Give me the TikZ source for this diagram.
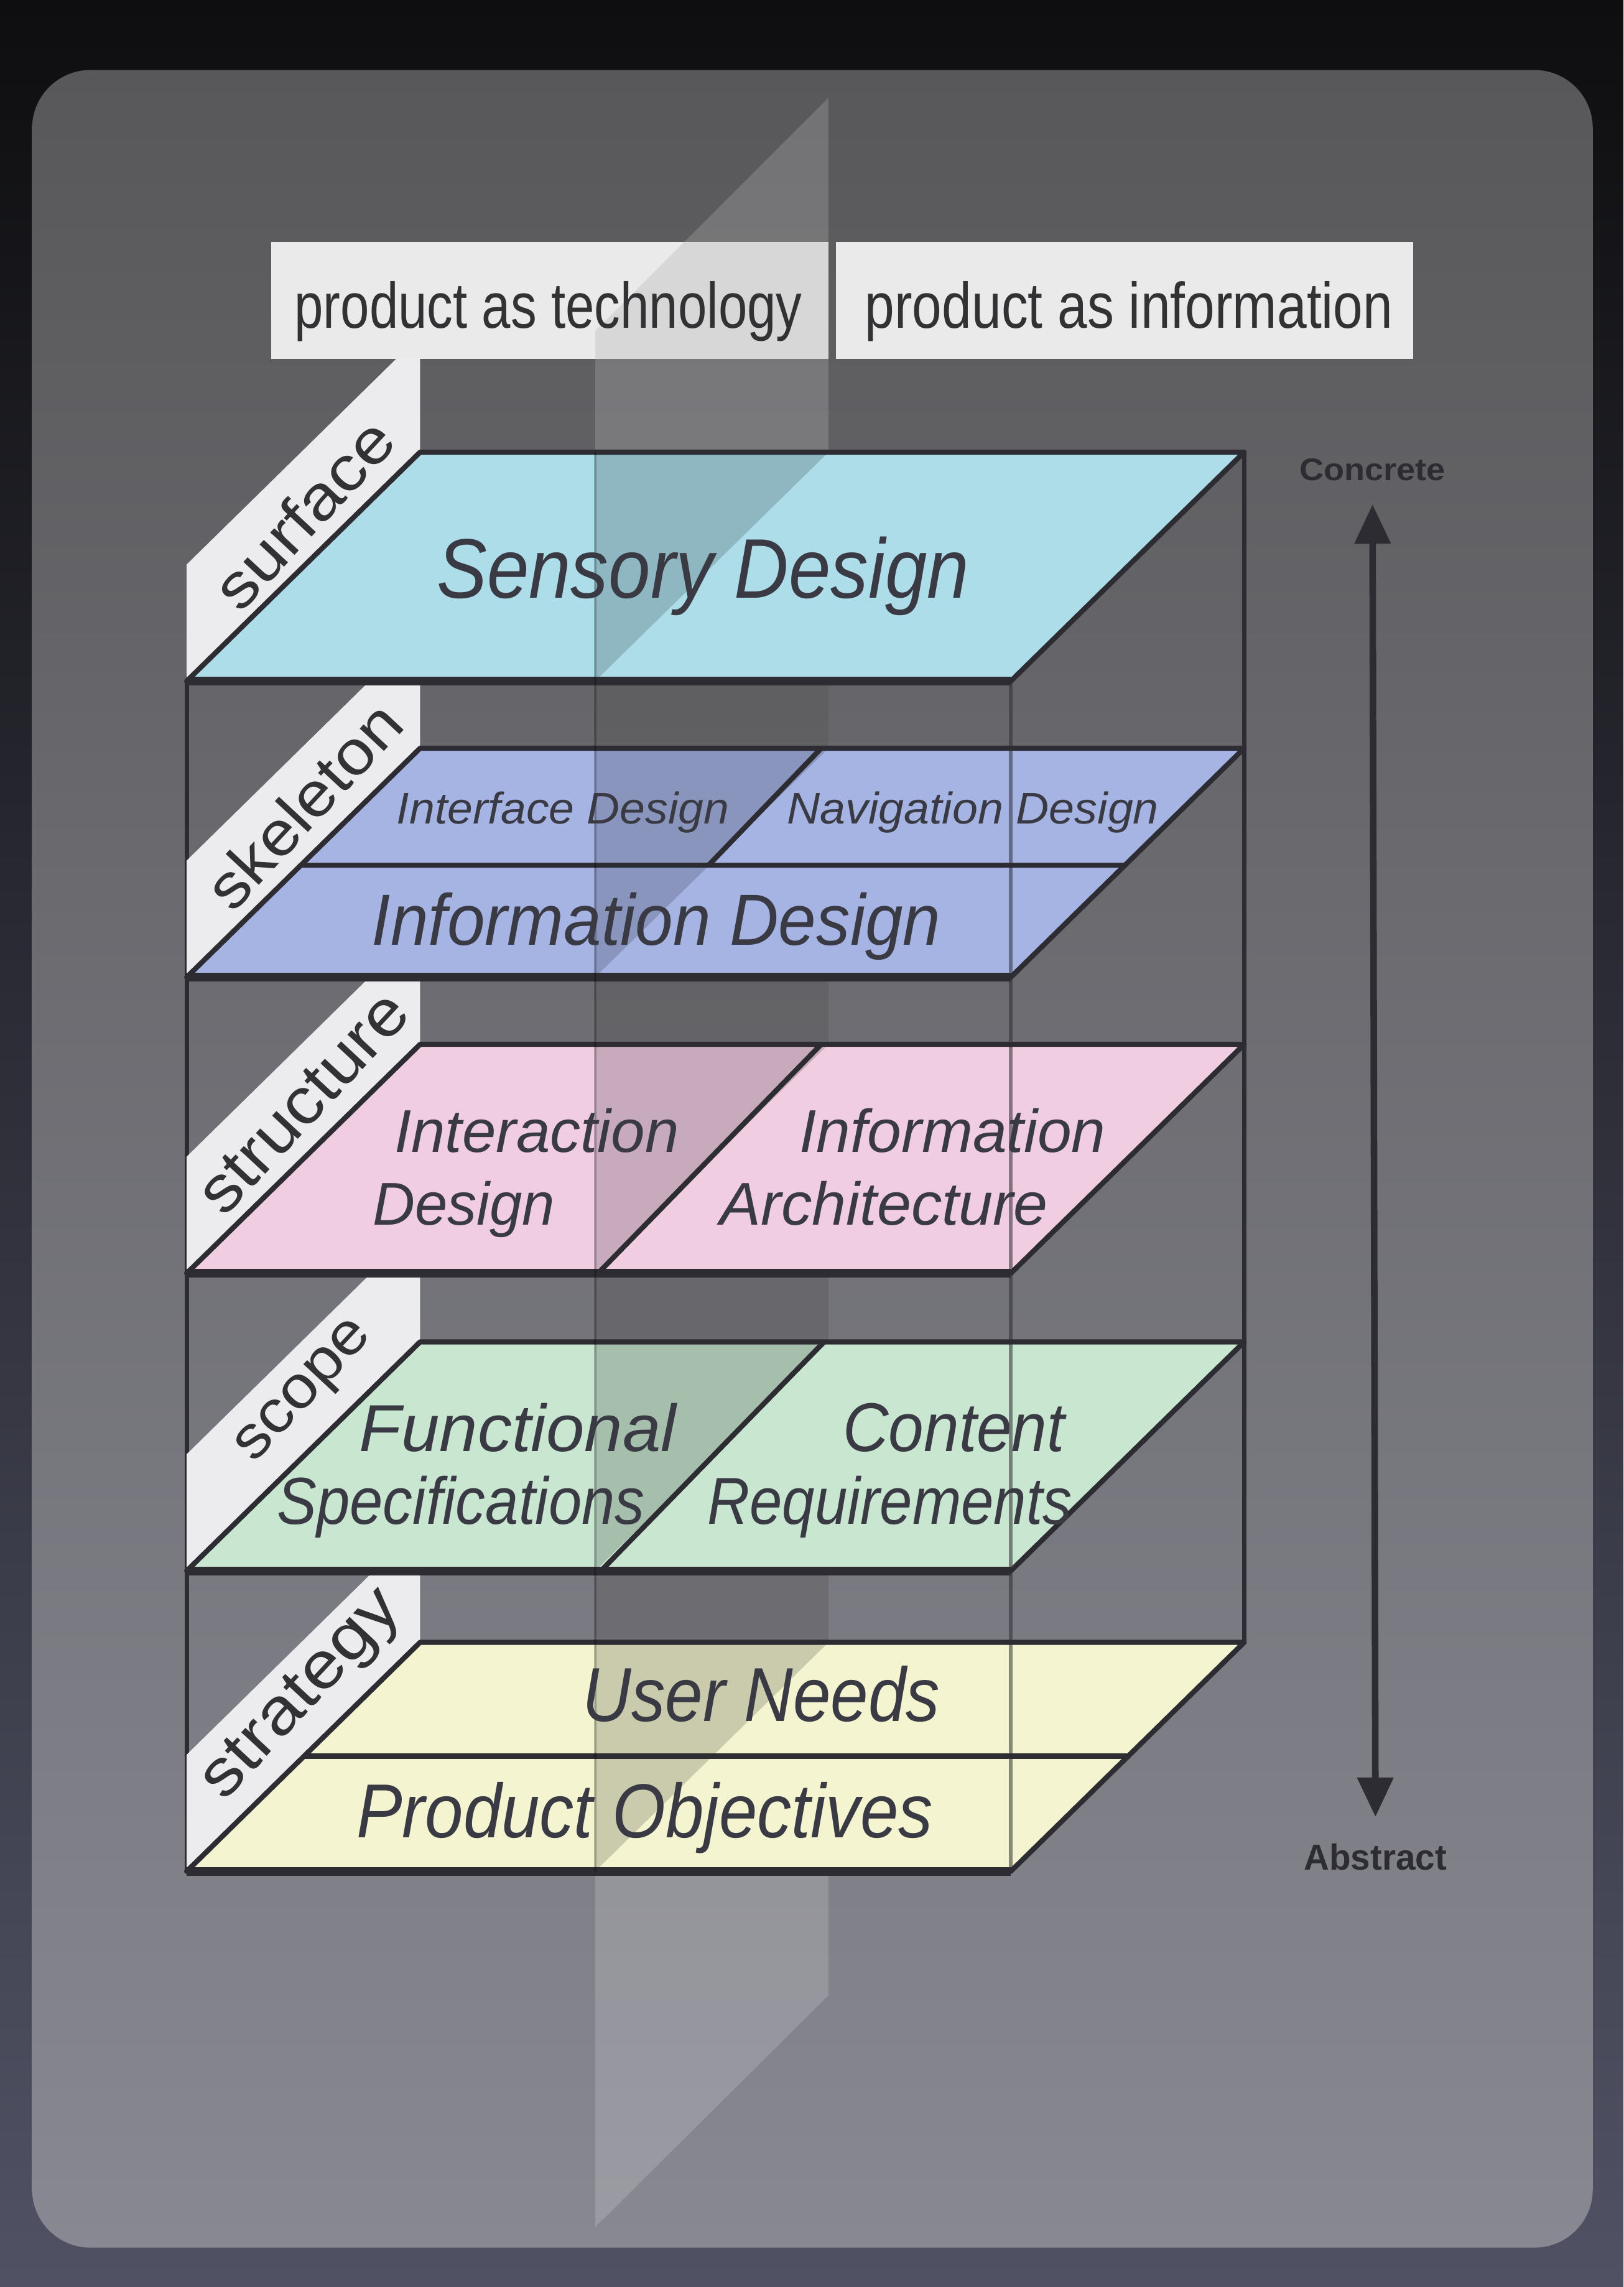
\documentclass[tikz,border=0pt]{standalone}
\usepackage{fontspec}
\usepackage{graphicx}
\setmainfont{Liberation Sans}
\usetikzlibrary{arrows.meta}
\definecolor{outtop}{RGB}{14,14,16}
\definecolor{outbot}{RGB}{80,82,100}
\definecolor{paneltop}{RGB}{88,88,90}
\definecolor{panelbot}{RGB}{136,136,146}
\definecolor{edgec}{RGB}{44,44,50}
\definecolor{stripc}{RGB}{236,236,238}
\definecolor{labelc}{RGB}{234,234,234}
\definecolor{cSurf}{RGB}{172,221,233}
\definecolor{cSkel}{RGB}{166,180,228}
\definecolor{cStruc}{RGB}{240,205,225}
\definecolor{cScope}{RGB}{200,230,208}
\definecolor{cStrat}{RGB}{244,244,208}
\definecolor{txtc}{RGB}{58,58,68}
\definecolor{stxt}{RGB}{50,50,52}
\newcommand{\fitt}[3]{\resizebox{#1pt}{#2pt}{#3}}
\begin{document}
\begin{tikzpicture}[x=1pt,y=-1pt,
  boxline/.style={draw=edgec,line width=3pt},
  layerbox/.style={draw=edgec,line width=3.5pt,line join=round},
  frontedge/.style={draw=edgec,line width=6pt},
  divider/.style={draw=edgec,line width=3.5pt},
  shadetri/.style={fill=black,fill opacity=0.17},
  striplbl/.style={inner sep=0pt,text=stxt,rotate=47},
  laytxt/.style={inner sep=0pt,anchor=base,text=txtc,font=\itshape},
  toptxt/.style={inner sep=0pt,anchor=base,text=stxt},
  endtxt/.style={inner sep=0pt,text=edgec,font=\bfseries}]
\useasboundingbox (0,0) rectangle (1113,1568);
% backgrounds
\shade[top color=outtop,bottom color=outbot] (0,0) rectangle (1113,1568);
\shade[top color=paneltop,bottom color=panelbot,rounded corners=40pt] (22,48) rectangle (1092,1541);
% translucent vertical plane
\fill[white,fill opacity=0.16] (408,227) -- (568,67) -- (568,1368) -- (408,1527) -- cycle;
\fill[black,fill opacity=0.24] (408,310) rectangle (568,1283);
% box wireframe behind layers
\draw[boxline] (128,467) -- (128,1283);
\draw[boxline] (853,310) -- (853,1126);
% side strips
\foreach \F in {467,670,873,1077,1283}{
  \fill[stripc] (128,\F) -- (128,\F-80) -- (288,\F-237) -- (288,\F-157) -- cycle;
}
\node[striplbl] (lsurf) at (208,352) {\fitt{160}{31}{surface}};
\node[striplbl] (lskel) at (208,552) {\fitt{175}{31}{skeleton}};
\node[striplbl] (lstruc) at (208,756) {\fitt{190}{29}{structure}};
\node[striplbl] (lscope) at (210,955) {\fitt{120}{22}{scope}};
\node[striplbl] (lstrat) at (208,1163) {\fitt{180}{29}{strategy}};
% layers
\foreach \F/\c in {467/cSurf,670/cSkel,873/cStruc,1077/cScope,1283/cStrat}{
  \fill[\c] (288,\F-157) -- (853,\F-157) -- (693,\F) -- (128,\F) -- cycle;
  \fill[shadetri] (408,\F-157) -- (568,\F-157) -- (408,\F) -- cycle;
  \draw[layerbox] (288,\F-157) -- (853,\F-157) -- (693,\F) -- (128,\F) -- cycle;
  \draw[frontedge] (128,\F) -- (693,\F);
}
% dividers
\draw[divider] (206,593) -- (772,593);
\draw[divider] (563,513) -- (486,593);
\draw[divider] (563,716) -- (410,873);
\draw[divider] (565,920) -- (412,1077);
\draw[divider] (209,1204) -- (775,1204);
% lines seen through the layers
\draw[draw=edgec,line width=2.5pt,opacity=0.55] (693,467) -- (693,1283);
\draw[draw=black,line width=1.5pt,opacity=0.25] (408,310) -- (408,1283);
% layer texts
\node[laytxt] (sensory) at (482,410) {\fitt{365}{42}{Sensory Design}};
\node[laytxt] (iface) at (386,565) {\fitt{228}{22}{Interface Design}};
\node[laytxt] (navd) at (667,565) {\fitt{255}{22}{Navigation Design}};
\node[laytxt] (infod) at (450,648) {\fitt{390}{36}{Information Design}};
\node[laytxt] (inter1) at (368,790) {\fitt{195}{30}{Interaction}};
\node[laytxt] (inter2) at (318,840) {\fitt{125}{30}{Design}};
\node[laytxt] (ia1) at (653,790) {\fitt{210}{30}{Information}};
\node[laytxt] (ia2) at (606,840) {\fitt{225}{30}{Architecture}};
\node[laytxt] (func1) at (355,995) {\fitt{217}{33}{Functional}};
\node[laytxt] (func2) at (316,1045) {\fitt{252}{33}{Specifications}};
\node[laytxt] (cont1) at (654,995) {\fitt{152}{33}{Content}};
\node[laytxt] (cont2) at (610,1045) {\fitt{250}{33}{Requirements}};
\node[laytxt] (userneeds) at (522,1180) {\fitt{245}{38}{User Needs}};
\node[laytxt] (prodobj) at (442,1260) {\fitt{395}{38}{Product Objectives}};
% top labels
\fill[labelc] (186,166) rectangle (568,246);
\fill[labelc] (573,166) rectangle (969,246);
\fill[black,fill opacity=0.08] (469,166) -- (568,166) -- (568,246) -- (408,246) -- (408,227) -- cycle;
\node[toptxt] (tech) at (376,225) {\fitt{348}{32}{product as technology}};
\node[toptxt] (info) at (774,225) {\fitt{362}{32}{product as information}};
% concrete / abstract axis
\node[endtxt] (concrete) at (941,322) {\fitt{100}{15}{Concrete}};
\node[endtxt] (abstract) at (943,1273) {\fitt{98}{18}{Abstract}};
\draw[draw=edgec,line width=4.5pt,{Triangle[width=24pt,length=27pt]}-{Triangle[width=24pt,length=27pt]}]
  ([yshift=-16pt]concrete.south) -- ([yshift=18pt]abstract.north);
\end{tikzpicture}
\end{document}
